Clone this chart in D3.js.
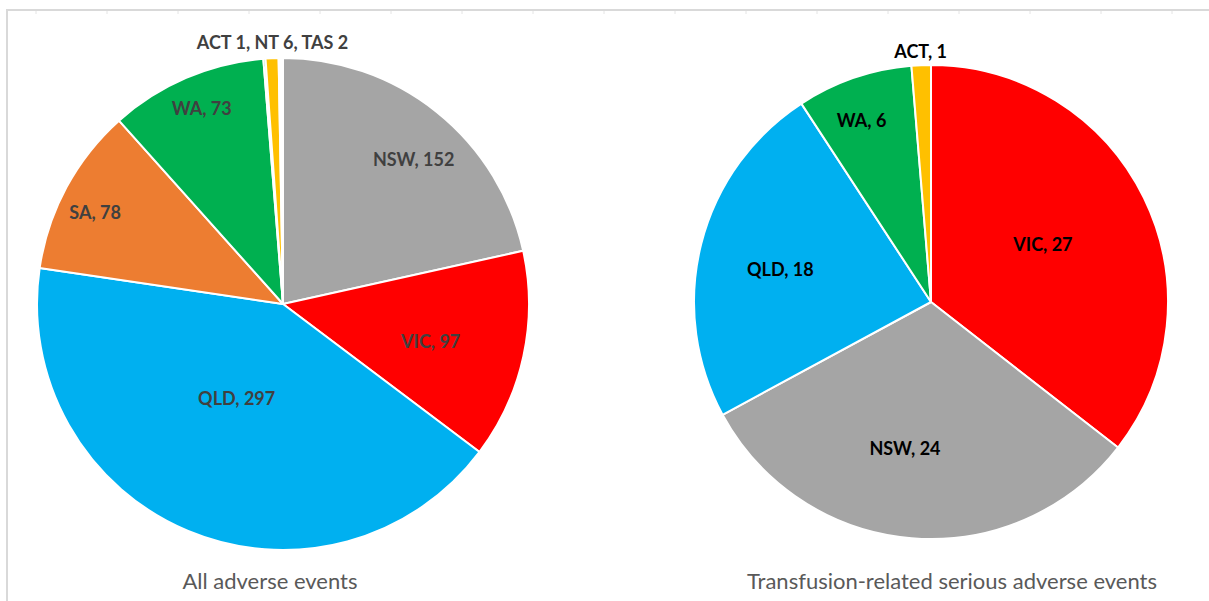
<!DOCTYPE html>
<html>
<head>
<meta charset="utf-8">
<script src="https://cdn.jsdelivr.net/npm/d3@7"></script>
<style>
  body { margin: 0; background: #fff; }
  svg { display: block; }
  .lbl { font-family: Lato, "Open Sans", sans-serif; font-weight: bold; font-size: 18px; }
  .ttl { font-family: Lato, "Open Sans", sans-serif; font-size: 22px; fill: #595959; }
</style>
</head>
<body>
<div id="chart"></div>
<script>
// left pie: all adverse events
const leftStates = ["NSW", "VIC", "QLD", "SA", "WA", "ACT", "NT", "TAS"];
const leftValues = [152, 97, 297, 78, 73, 1, 6, 2];
const leftColors = ["#A5A5A5", "#FF0000", "#00B0F0", "#ED7D31", "#00B050", "#00B050", "#FFC000", "#FFFFFF"];
const leftTitle = "All adverse events";
const leftSmallLabel = "ACT 1, NT 6, TAS 2";

// right pie: transfusion-related serious adverse events
const rightStates = ["VIC", "NSW", "QLD", "WA", "ACT"];
const rightValues = [27, 24, 18, 6, 1];
const rightColors = ["#FF0000", "#A5A5A5", "#00B0F0", "#00B050", "#FFC000"];
const rightTitle = "Transfusion-related serious adverse events";

const width = 1209, height = 601;

const svg = d3.select("#chart").append("svg")
  .attr("width", width)
  .attr("height", height);

// frame lines like the spreadsheet border
svg.append("line")
  .attr("x1", 7).attr("x2", width).attr("y1", 10).attr("y2", 10)
  .attr("stroke", "#d9d9d9").attr("stroke-width", 2);
svg.append("line")
  .attr("x1", 7).attr("x2", 7).attr("y1", 9).attr("y2", height)
  .attr("stroke", "#d9d9d9").attr("stroke-width", 2);
svg.selectAll("line.tick").data(d3.range(36, width, 71)).enter()
  .append("line")
  .attr("class", "tick")
  .attr("x1", d => d).attr("x2", d => d)
  .attr("y1", 11).attr("y2", 14)
  .attr("stroke", "#e4e4e4").attr("stroke-width", 1);

function drawPie(cfg) {
  const g = svg.append("g")
    .attr("transform", "translate(" + cfg.cx + "," + cfg.cy + ")");

  const pie = d3.pie().sort(null).value(d => d.value);
  const arc = d3.arc().innerRadius(0).outerRadius(cfg.r);
  const data = cfg.names.map((n, i) => ({name: n, value: cfg.values[i], color: cfg.colors[i]}));
  const arcs = pie(data);

  g.selectAll("path").data(arcs).enter()
    .append("path")
    .attr("d", arc)
    .attr("fill", d => d.data.color)
    .attr("stroke", "#fff")
    .attr("stroke-width", 2)
    .attr("stroke-linejoin", "round");

  // labels: radius fraction + small angle nudge (deg), like excel best fit
  arcs.forEach((d, i) => {
    const lp = cfg.labelPos[i];
    if (lp == null) return;
    const a = (d.startAngle + d.endAngle) / 2 + lp[1] * Math.PI / 180;
    const rr = cfg.r * lp[0];
    g.append("text")
      .attr("class", "lbl")
      .attr("x", rr * Math.sin(a)).attr("y", -rr * Math.cos(a))
      .attr("dy", "0.35em")
      .attr("text-anchor", "middle")
      .attr("fill", cfg.labelColor)
      .text(d.data.name + ", " + d.data.value);
  });

  if (cfg.smallLabel) {
    // combined label for the tiny slices, above the pie
    const small = arcs.slice(cfg.smallFrom);
    const mid = (small[0].startAngle + small[small.length - 1].endAngle) / 2;
    const rr = cfg.r * 1.065;
    g.append("text")
      .attr("class", "lbl")
      .attr("x", rr * Math.sin(mid))
      .attr("y", -rr * Math.cos(mid))
      .attr("dy", "0.35em")
      .attr("text-anchor", "middle")
      .attr("fill", cfg.labelColor)
      .text(cfg.smallLabel);
  }

  svg.append("text")
    .attr("class", "ttl")
    .attr("x", cfg.titleX).attr("y", 589)
    .attr("text-anchor", "middle")
    .text(cfg.title);
}

drawPie({
  cx: 283, cy: 304, r: 246,
  names: leftStates, values: leftValues, colors: leftColors,
  labelPos: [[0.79, 3.5], [0.62, 2.2], [0.43, 3.3], [0.85, -2.3], [0.86, 0.6], null, null, null],
  labelColor: "#404040",
  smallLabel: leftSmallLabel, smallFrom: 5,
  title: leftTitle, titleX: 270
});

drawPie({
  cx: 931, cy: 302, r: 237,
  names: rightStates, values: rightValues, colors: rightColors,
  labelPos: [[0.53, -0.9], [0.63, 5.3], [0.65, -2.2], [0.82, -2], [1.055, 0]],
  labelColor: "#000000",
  title: rightTitle, titleX: 952
});
</script>
</body>
</html>
